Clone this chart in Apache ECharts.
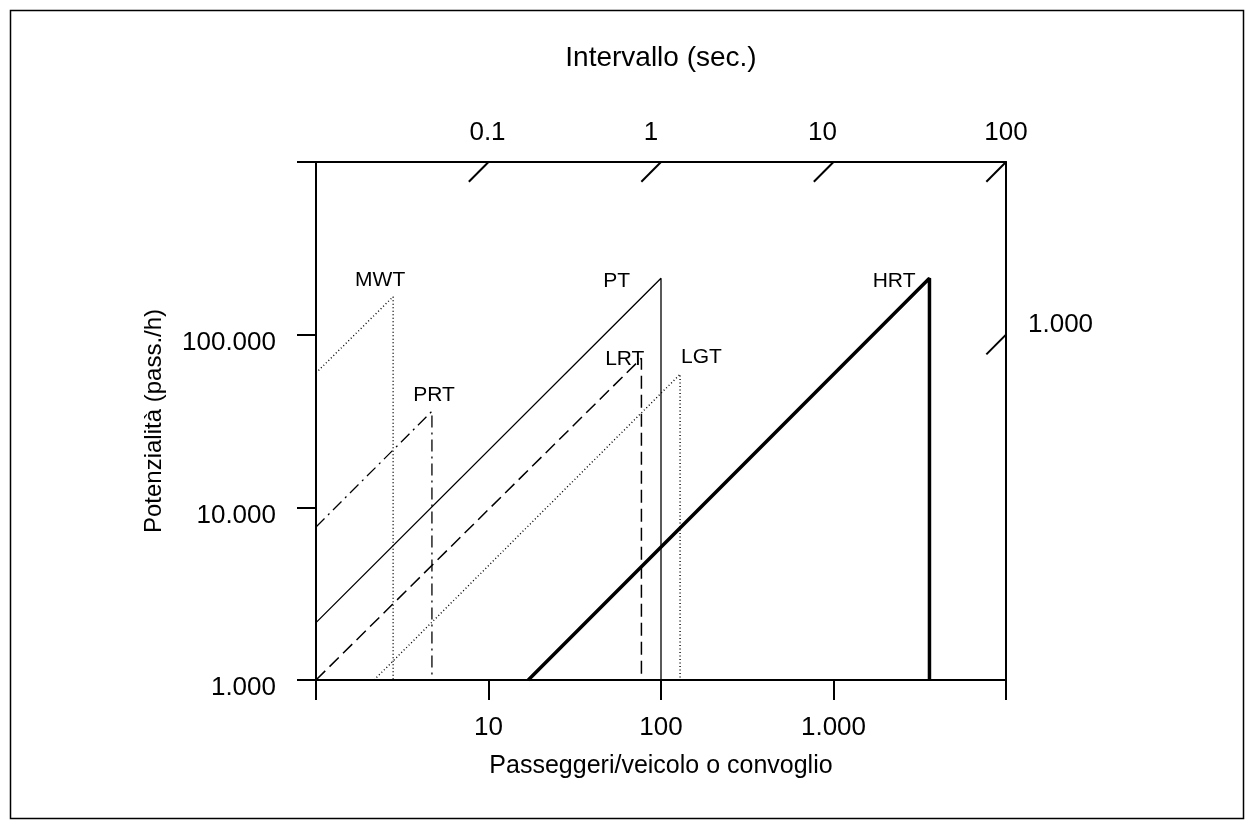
<!DOCTYPE html>
<html>
<head>
<meta charset="utf-8">
<script src="https://cdn.jsdelivr.net/npm/echarts@6/dist/echarts.min.js"></script>
<style>
html,body{margin:0;padding:0;background:#fff;}
#c{width:1254px;height:830px;}
</style>
</head>
<body>
<div id="c"></div>
<script>
// ---- data (passengers per vehicle, capacity pass./h) ----
const MWT = [[1, 60000], [2.8, 166000], [2.8, 1000]];
const PRT = [[1, 7700], [4.7, 36000], [4.7, 1000]];
const PT  = [[1, 2150], [100, 212000], [100, 1000]];
const LRT = [[1, 1000], [77, 73000], [77, 1000]];
const LGT = [[2.17, 1000], [129, 59000], [129, 1000]];
const HRT = [[17, 1000], [3600, 212000], [3600, 1000]];

// tick labels, indexed by decade exponent from axis min
const xTickLabels = ['', '10', '100', '1.000', ''];          // 1 .. 10000
const yTickLabels = ['1.000', '10.000', '100.000', ''];      // 1000 .. 1e6
const topTickLabels = ['', '0.1', '1', '10', '100'];         // 0.01 .. 100
const rightTickLabels = ['', '', '1.000', ''];               // 1000 .. 1e6

// diagonal tick positions (in bottom/left axis coordinates)
const topTickX = [10, 100, 1000, 10000];
const rightTickY = [100000];

const FONT = "'Liberation Sans', Arial, Helvetica, sans-serif";
const BLACK = '#000';
// horizontal nudge (px, leftwards) of top labels, as in the original drawing
const topLabelNudge = [0, 2, 20, 22, 0];

const chart = echarts.init(document.getElementById('c'), null, {renderer: 'canvas'});

function idx(v, min) { return Math.round(Math.log10(v) - Math.log10(min)); }

const diagFactor = 1.3;
const diagLines = [];
topTickX.forEach(x => diagLines.push({coords: [[x, 1e6], [x / diagFactor, 1e6 / diagFactor]]}));
rightTickY.forEach(y => diagLines.push({coords: [[10000, y], [10000 / diagFactor, y / diagFactor]]}));

function modeLine(data, type, width) {
  return {
    type: 'line', data: data, xAxisIndex: 0, yAxisIndex: 0,
    showSymbol: false, symbol: 'none', silent: true, animation: false,
    lineStyle: {color: BLACK, width: width, type: type, cap: 'butt', opacity: 1},
    z: 3
  };
}
function modeLabel(name, data, position, distance, offset) {
  return {
    type: 'scatter', data: [data[1]], xAxisIndex: 0, yAxisIndex: 0,
    symbolSize: 0, silent: true, animation: false,
    itemStyle: {opacity: 1, color: BLACK},
    label: {show: true, formatter: name, position: position, distance: distance, offset: offset,
            color: BLACK, opacity: 1, fontSize: 21, fontFamily: FONT},
    z: 5
  };
}

const topRich = {};
topLabelNudge.forEach((n, i) => { topRich['t' + i] = {padding: [0, n, 0, 0], fontSize: 26, fontFamily: FONT, color: BLACK}; });

const option = {
  backgroundColor: '#fff',
  animation: false,
  grid: {left: 316, right: 248, top: 162, bottom: 150, containLabel: false, outerBoundsMode: 'none'},
  xAxis: [
    {
      type: 'log', logBase: 10, min: 1, max: 10000, position: 'bottom',
      name: 'Passeggeri/veicolo o convoglio', nameLocation: 'middle', nameGap: 74,
      nameTextStyle: {color: BLACK, fontSize: 25, fontFamily: FONT},
      axisLine: {show: true, lineStyle: {color: BLACK, width: 2}},
      axisTick: {show: true, inside: false, length: 20, lineStyle: {color: BLACK, width: 2}},
      axisLabel: {show: true, margin: 35, color: BLACK, fontSize: 26, fontFamily: FONT,
                  formatter: v => xTickLabels[idx(v, 1)] || ''},
      splitLine: {show: false}, minorTick: {show: false}
    },
    {
      type: 'log', logBase: 10, min: 0.01, max: 100, position: 'top',
      name: 'Intervallo (sec.)', nameLocation: 'middle', nameGap: 90,
      nameTextStyle: {color: BLACK, fontSize: 28, fontFamily: FONT},
      axisLine: {show: true, lineStyle: {color: BLACK, width: 2}},
      axisTick: {show: false},
      axisLabel: {show: true, margin: 16, color: BLACK, fontSize: 26, fontFamily: FONT,
                  formatter: v => { const i = idx(v, 0.01); return topTickLabels[i] ? '{t' + i + '|' + topTickLabels[i] + '}' : ''; },
                  rich: topRich},
      splitLine: {show: false}
    }
  ],
  yAxis: [
    {
      type: 'log', logBase: 10, min: 1000, max: 1000000, position: 'left',
      name: 'Potenzialità (pass./h)', nameLocation: 'middle', nameGap: 150,
      nameTextStyle: {color: BLACK, fontSize: 24, fontFamily: FONT},
      axisLine: {show: true, lineStyle: {color: BLACK, width: 2}},
      axisTick: {show: true, inside: false, length: 19, lineStyle: {color: BLACK, width: 2}},
      axisLabel: {show: true, margin: 40, color: BLACK, fontSize: 26, fontFamily: FONT,
                  verticalAlign: 'top', lineHeight: 16,
                  formatter: v => yTickLabels[idx(v, 1000)] || ''},
      splitLine: {show: false}
    },
    {
      type: 'log', logBase: 10, min: 1000, max: 1000000, position: 'right',
      axisLine: {show: true, lineStyle: {color: BLACK, width: 2}},
      axisTick: {show: false},
      axisLabel: {show: true, margin: 22, color: BLACK, fontSize: 26, fontFamily: FONT,
                  verticalAlign: 'bottom', lineHeight: 20,
                  formatter: v => rightTickLabels[idx(v, 1000)] || ''},
      splitLine: {show: false}
    }
  ],
  graphic: [
    {type: 'rect', shape: {x: 10.5, y: 10.5, width: 1233, height: 808},
     style: {fill: 'none', stroke: BLACK, lineWidth: 1.5}, silent: true, z: -10}
  ],
  series: [
    modeLine(MWT, [1, 2.5], 1.4),
    modeLine(PRT, [12, 5, 2, 5], 1.3),
    modeLine(PT, 'solid', 1.3),
    modeLine(LRT, [13, 6], 1.5),
    modeLine(LGT, [1, 2.5], 1.4),
    modeLine(HRT, 'solid', 3.5),
    {
      type: 'lines', coordinateSystem: 'cartesian2d', xAxisIndex: 0, yAxisIndex: 0,
      data: diagLines, silent: true, animation: false,
      lineStyle: {color: BLACK, width: 2, opacity: 1, curveness: 0}, z: 4
    },
    modeLabel('MWT', MWT, 'top', 6, [-13, 0]),
    modeLabel('PRT', PRT, 'top', 6, [2, 0]),
    modeLabel('PT', PT, 'left', 31, [0, 3]),
    modeLabel('LRT', LRT, 'left', -3, [0, 1]),
    modeLabel('LGT', LGT, 'right', 1, [0, -17]),
    modeLabel('HRT', HRT, 'left', 14, [0, 3])
  ]
};
chart.setOption(option);
</script>
</body>
</html>
